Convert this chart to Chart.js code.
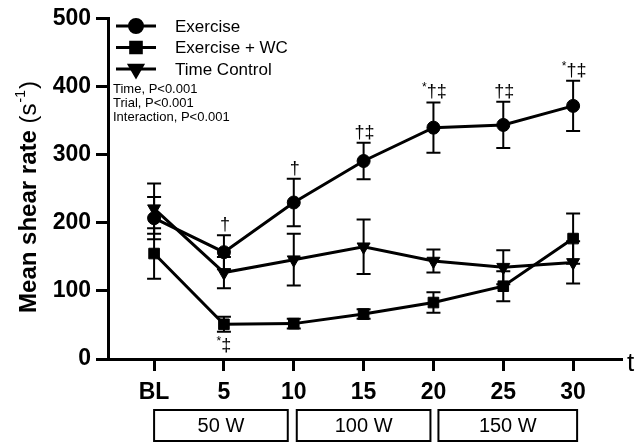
<!DOCTYPE html>
<html>
<head>
<meta charset="utf-8">
<script src="https://cdn.jsdelivr.net/npm/chart.js@4.4.0/dist/chart.umd.min.js"></script>
<style>
  html, body { margin: 0; padding: 0; background: #fff; }
  #wrap { width: 636px; height: 446px; }
</style>
</head>
<body>
<div id="wrap"><canvas id="myChart" width="636" height="446"></canvas></div>
<script>
// data
const categories = ['BL', '5', '10', '15', '20', '25', '30'];
const exercise = [207, 157, 230, 291, 340, 344, 372];
const exerciseErr = [31, 25, 35, 27, 37, 34, 37];
const exerciseWC = [155, 51, 52, 66, 83, 107, 177];
const exerciseWCErr = [37, 11, 7, 7, 15, 22, 37];
const timeControl = [221, 127, 146, 165, 144, 135, 142];
const timeControlErr = [37, 23, 38, 40, 17, 25, 31];
const yTicks = [0, 100, 200, 300, 400, 500];

// significance marks above Exercise / below Exercise + WC
const exerciseSig = ['', '†', '†', '†‡', '*†‡', '†‡', '*†‡'];
const wcSig = ['', '*‡', '', '', '', '', ''];

const stages = [
  { label: '50 W', from: 0, to: 2, padL: 0, padR: -6 },
  { label: '100 W', from: 2, to: 4, padL: 3, padR: -3 },
  { label: '150 W', from: 4, to: 6, padL: 5, padR: 4 }
];

const FONT = "'Liberation Sans', Arial, sans-serif";

const series = [
  { label: 'Exercise', data: exercise, err: exerciseErr, style: 'circle', radius: 6.5, rot: 0 },
  { label: 'Exercise + WC', data: exerciseWC, err: exerciseWCErr, style: 'rect', radius: 7.5, rot: 0 },
  { label: 'Time Control', data: timeControl, err: timeControlErr, style: 'triangle', radius: 7.5, rot: 180 }
];

// error bars, drawn under the lines/markers
const errorBars = {
  id: 'errorBars',
  beforeDatasetsDraw(chart) {
    const { ctx, scales: { x, y } } = chart;
    ctx.save();
    ctx.strokeStyle = '#000';
    ctx.lineWidth = 2;
    series.forEach(s => {
      s.data.forEach((v, i) => {
        const px = x.getPixelForValue(i);
        const top = y.getPixelForValue(v + s.err[i]);
        const bot = y.getPixelForValue(v - s.err[i]);
        ctx.beginPath();
        ctx.moveTo(px, top); ctx.lineTo(px, bot);
        ctx.moveTo(px - 7, top); ctx.lineTo(px + 7, top);
        ctx.moveTo(px - 7, bot); ctx.lineTo(px + 7, bot);
        ctx.stroke();
      });
    });
    ctx.restore();
  }
};

function drawSig(ctx, cx, baseY, txt) {
  const star = txt.startsWith('*');
  const main = star ? txt.slice(1) : txt;
  ctx.font = '18px ' + FONT;
  const mw = ctx.measureText(main).width;
  ctx.font = '12px ' + FONT;
  const sw = star ? ctx.measureText('*').width : 0;
  const start = cx - (mw + sw) / 2;
  ctx.textAlign = 'left';
  ctx.textBaseline = 'alphabetic';
  if (star) { ctx.fillText('*', start, baseY - 6); }
  ctx.font = '18px ' + FONT;
  ctx.fillText(main, start + sw, baseY);
}

const annotations = {
  id: 'annotations',
  afterDraw(chart) {
    const { ctx, scales: { x, y } } = chart;
    ctx.save();
    ctx.fillStyle = '#000';
    ctx.strokeStyle = '#000';

    // y title with superscript
    ctx.save();
    ctx.translate(29, 197);
    ctx.rotate(-Math.PI / 2);
    ctx.font = 'bold 24px ' + FONT;
    const wm = ctx.measureText('Mean shear rate ').width;
    ctx.font = '24px ' + FONT;
    const wp = ctx.measureText('(s').width;
    const w3 = ctx.measureText(')').width;
    ctx.font = '14px ' + FONT;
    const wsup = ctx.measureText('-1').width;
    const sx = -(wm + wp + wsup + w3 + 2) / 2;
    ctx.textBaseline = 'middle';
    ctx.textAlign = 'left';
    ctx.font = 'bold 24px ' + FONT;
    ctx.fillText('Mean shear rate ', sx, 0);
    ctx.font = '24px ' + FONT;
    ctx.fillText('(s', sx + wm, 0);
    ctx.font = '14px ' + FONT;
    ctx.fillText('-1', sx + wm + wp + 1, -8);
    ctx.font = '24px ' + FONT;
    ctx.fillText(')', sx + wm + wp + wsup + 2, 0);
    ctx.restore();

    // legend
    series.forEach((s, i) => {
      const ly = 26 + i * 21.5;
      ctx.lineWidth = 3;
      ctx.beginPath();
      ctx.moveTo(116, ly); ctx.lineTo(156, ly);
      ctx.stroke();
      Chart.helpers.drawPoint(ctx, { pointStyle: s.style, radius: s.radius, rotation: s.rot, borderWidth: 1 }, 136, ly);
      ctx.font = '17px ' + FONT;
      ctx.textAlign = 'left';
      ctx.textBaseline = 'middle';
      ctx.fillText(s.label, 175, ly + 1);
    });

    // stats text
    ctx.font = '13px ' + FONT;
    ['Time, P<0.001', 'Trial, P<0.001', 'Interaction, P<0.001'].forEach((t, i) => {
      ctx.fillText(t, 113, 89 + i * 14);
    });

    // significance marks
    exerciseSig.forEach((t, i) => {
      if (!t) return;
      drawSig(ctx, x.getPixelForValue(i) + 1, y.getPixelForValue(exercise[i] + exerciseErr[i]) - 5, t);
    });
    wcSig.forEach((t, i) => {
      if (!t) return;
      drawSig(ctx, x.getPixelForValue(i), y.getPixelForValue(exerciseWC[i] - exerciseWCErr[i]) + 19, t);
    });

    // workload boxes
    ctx.lineWidth = 2;
    stages.forEach(st => {
      const l = x.getPixelForValue(st.from) + st.padL;
      const r = x.getPixelForValue(st.to) + st.padR;
      ctx.strokeRect(l, 410, r - l, 31);
      ctx.font = '20px ' + FONT;
      ctx.textAlign = 'center';
      ctx.textBaseline = 'middle';
      ctx.fillText(st.label, (l + r) / 2, 426);
    });

    // x title, cut by the right edge in the original
    ctx.font = '26px ' + FONT;
    ctx.textAlign = 'left';
    ctx.textBaseline = 'middle';
    ctx.fillText('t', 627, 364);

    ctx.restore();
  }
};

const ctx = document.getElementById('myChart').getContext('2d');
new Chart(ctx, {
  type: 'line',
  data: {
    datasets: series.map(s => ({
      label: s.label,
      data: s.data.map((v, i) => ({ x: i, y: v })),
      borderColor: '#000',
      backgroundColor: '#000',
      borderWidth: 3,
      pointStyle: s.style,
      pointRadius: s.radius,
      pointRotation: s.rot,
      pointBorderWidth: 1,
      pointBackgroundColor: '#000',
      pointBorderColor: '#000',
      tension: 0
    }))
  },
  options: {
    responsive: false,
    animation: false,
    layout: { padding: { top: 18, right: 14, left: 0, bottom: 0 } },
    plugins: { legend: { display: false }, tooltip: { enabled: false } },
    scales: {
      x: {
        type: 'linear',
        min: -0.66,
        max: 6.7,
        afterBuildTicks: scale => { scale.ticks = categories.map((c, i) => ({ value: i })); },
        afterFit: scale => { scale.height = 87; },
        ticks: {
          callback: v => categories[v],
          color: '#000',
          font: { family: FONT, size: 23, weight: 'bold' },
          padding: 8,
          maxRotation: 0,
          autoSkip: false
        },
        grid: { display: true, drawOnChartArea: false, drawTicks: true, tickLength: 12, tickWidth: 3, tickColor: '#000' },
        border: { display: true, color: '#000', width: 3 }
      },
      y: {
        min: 0,
        max: 500,
        afterBuildTicks: scale => { scale.ticks = yTicks.map(v => ({ value: v })); },
        afterFit: scale => { scale.width = 108; },
        ticks: {
          color: '#000',
          font: { family: FONT, size: 23, weight: 'bold' },
          padding: 5
        },
        grid: { display: true, drawOnChartArea: false, drawTicks: true, tickLength: 12, tickWidth: 3, tickColor: '#000' },
        border: { display: true, color: '#000', width: 3 }
      }
    }
  },
  plugins: [errorBars, annotations]
});
</script>
</body>
</html>
